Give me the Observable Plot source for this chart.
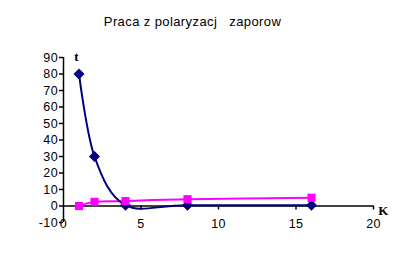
<!DOCTYPE html>
<html>
<head>
<meta charset="utf-8">
<script src="https://cdn.jsdelivr.net/npm/d3@7"></script>
<script src="https://cdn.jsdelivr.net/npm/@observablehq/plot@0.6"></script>
<style>
  html, body { margin: 0; padding: 0; background: #fff; }
  svg text { white-space: pre; }
</style>
</head>
<body>
<div id="chart"></div>
<script>
const title = "Praca z polaryzacj   zaporow";
const kValues = [1, 2, 4, 8, 16];
const seriesBlue = [80, 30, 0.5, 0.5, 0.5];
const seriesPink = [0, 2.5, 3, 4.1, 5];
const xTicks = [0, 5, 10, 15, 20];
const yTicks = [-10, 0, 10, 20, 30, 40, 50, 60, 70, 80, 90];
const xAxisLabel = "K";
const yAxisLabel = "t";

const blue = kValues.map((k, i) => ({k, v: seriesBlue[i]}));
const pink = kValues.map((k, i) => ({k, v: seriesPink[i]}));

const font = "Liberation Sans, Arial, sans-serif";

const chart = Plot.plot({
  width: 394,
  height: 269,
  marginLeft: 63,
  marginRight: 21,
  marginTop: 57,
  marginBottom: 47,
  style: {fontFamily: font, fontSize: "12.5px", background: "#fff", overflow: "visible", letterSpacing: "0.4px"},
  x: {domain: [0, 20], axis: null},
  y: {domain: [-10, 90], axis: null},
  marks: [
    Plot.axisY({ticks: yTicks, tickSize: 4, tickPadding: 1.5, tickFormat: d => String(d), fontSize: 12.5, stroke: "#000", strokeWidth: 1.5, color: "#000", label: null}),
    Plot.ruleX([0], {y1: -10, y2: 90, stroke: "#000", strokeWidth: 1.5}),
    Plot.ruleY([0], {x1: 0, x2: 20, stroke: "#000", strokeWidth: 1.5}),
    Plot.ruleX(xTicks.slice(1), {x: d => d, y1: 0, y2: -2.4, stroke: "#000", strokeWidth: 1.5}),
    Plot.text(xTicks, {x: d => d, y: -10, text: d => String(d), fontSize: 12.5, fill: "#000", lineAnchor: "middle", dy: 1}),
    Plot.line(pink, {x: "k", y: "v", stroke: "#ff00ff", strokeWidth: 2, curve: "cardinal"}),
    Plot.line(blue, {x: "k", y: "v", stroke: "#000080", strokeWidth: 2, curve: "cardinal"}),
    Plot.dot(blue, {x: "k", y: "v", symbol: "diamond2", r: 4, fill: "#000080", stroke: "#000080"}),
    Plot.dot(pink, {x: "k", y: "v", symbol: "square", r: 4.6, fill: "#ff00ff", stroke: "none"}),
    Plot.text([yAxisLabel], {x: 0, y: 90, text: d => d, dx: 13, dy: -1, fontFamily: "Liberation Serif, Times New Roman, serif", fontWeight: "bold", fontSize: 13, fill: "#000"}),
    Plot.text([xAxisLabel], {x: 20, y: 0, text: d => d, dx: 10, dy: 5, fontFamily: "Liberation Serif, Times New Roman, serif", fontWeight: "bold", fontSize: 13, fill: "#000"}),
    Plot.text([title], {frameAnchor: "top", text: d => d, dy: -41, dx: -26, fontSize: 13, fill: "#000"})
  ]
});
document.getElementById("chart").appendChild(chart);
</script>
</body>
</html>
